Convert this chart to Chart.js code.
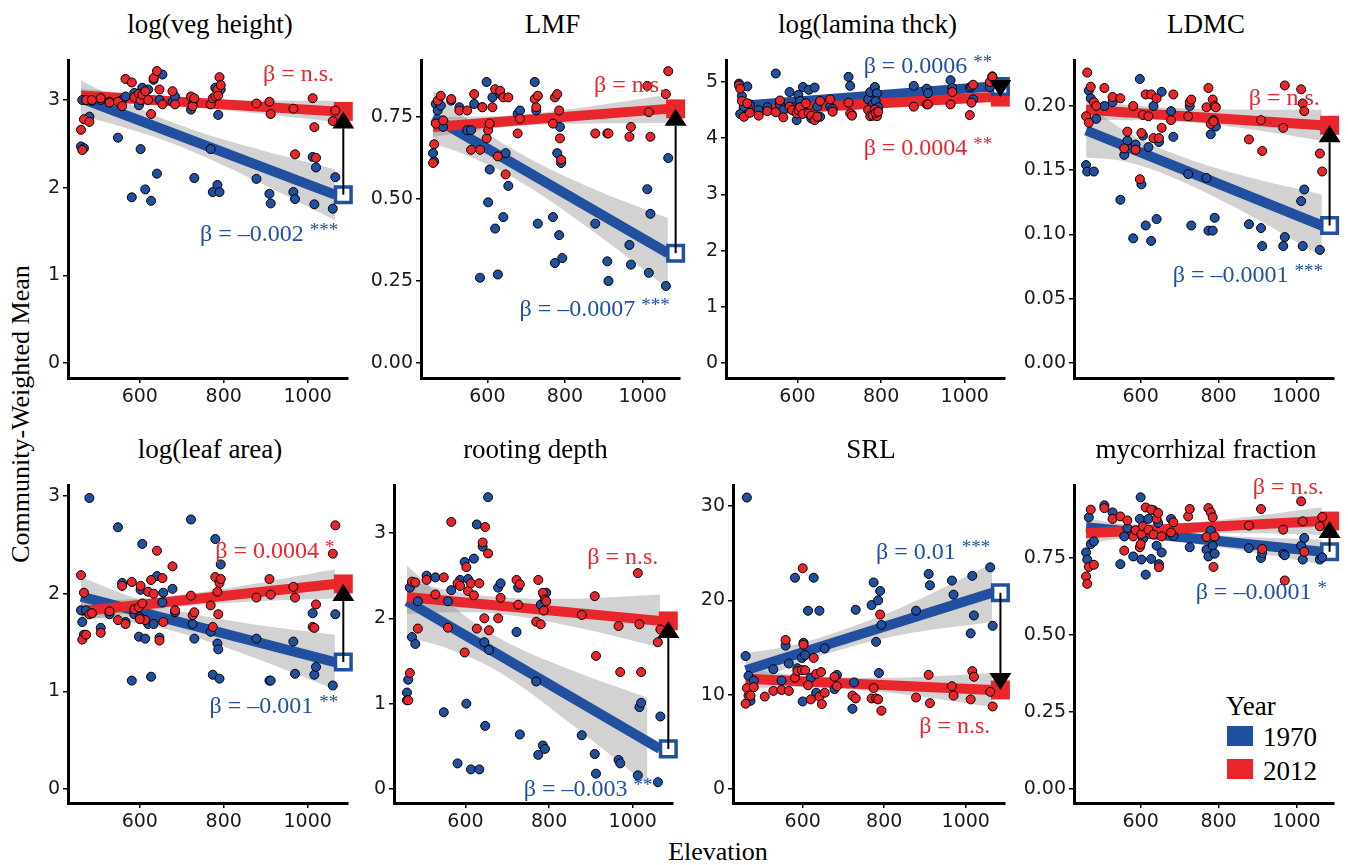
<!DOCTYPE html>
<html>
<head>
<meta charset="utf-8">
<script src="https://cdn.jsdelivr.net/npm/chart.js@4.4.1/dist/chart.umd.min.js"></script>
<style>
body { margin: 0; background: #fff; }
#page { position: relative; width: 1348px; height: 865px; overflow: hidden; font-family: "Liberation Serif", serif; color: #000; }
#page canvas { position: absolute; }
.title { position: absolute; font-size: 27px; line-height: 30px; text-align: center; white-space: nowrap; }
.axtitle { position: absolute; font-size: 26px; line-height: 30px; text-align: center; white-space: nowrap; }
.leg { position: absolute; font-size: 27px; line-height: 30px; white-space: nowrap; }
.box { position: absolute; width: 26px; height: 20px; }
</style>
</head>
<body>
<div id="page">
  <div class="axtitle" style="left:-179px; top:399px; width:400px; transform:rotate(-90deg);">Community-Weighted Mean</div>
  <div class="axtitle" style="left:618px; top:837px; width:200px;">Elevation</div>
  <div class="leg" style="left:1226px; top:691px;">Year</div>
  <div class="box" style="left:1227px; top:726px; background:#2150A0;"></div>
  <div class="leg" style="left:1263px; top:722px;">1970</div>
  <div class="box" style="left:1227px; top:759px; background:#E8262B;"></div>
  <div class="leg" style="left:1263px; top:756px;">2012</div>
</div>
<script>
var BLUE = '#2150A0';
var RED = '#E8262B';
var BAND = 'rgba(128,130,128,0.36)';

// site elevations, shared by every panel
var elevation = [460, 463, 467, 472, 480, 486, 507, 528, 548, 558, 566, 581, 587, 598, 602, 606, 613, 620, 627, 633,
  641, 647, 654, 678, 684, 722, 726, 730, 769, 774, 780, 785, 790, 878, 909, 912, 966, 970, 1012, 1016,
  1020, 1060, 1066, 787, 793, 645, 656, 600];

var xTicks = [600, 800, 1000];
var fitX = [460, 1065];
var endX = 1085;
var bandX = [460, 560, 680, 850, 1065];
var rootBandX70 = [460, 560, 680, 850, 1035];

// log(veg height)
var vegHeight1970 = [2.47, 3.0, 2.45, 3.0, 2.81, 2.99, 3.0, 2.98, 2.57, 3.0, 3.04, 1.89, 3.08, 2.94, 2.44, 3.14, 1.98, 3.12, 1.85, 3.23,
  2.16, 3.0, 3.29, 2.98, 3.04, 2.89, 2.95, 2.11, 2.44, 1.95, 3.14, 2.03, 1.95, 2.10, 1.93, 1.82, 1.95, 1.87, 2.35, 1.81,
  2.23, 1.76, 2.12, 2.83, 3.12, null, null, null];
var vegHeight2012 = [2.66, 2.43, 2.78, 3.0, 2.75, 3.0, 3.02, 2.97, 2.98, 2.93, 3.24, 3.2, 3.03, 3.07, 3.0, 3.06, 3.1, 3.0, 2.84, 3.25,
  3.33, 3.12, 2.95, 3.1, 2.95, 3.04, 2.93, 3.02, 2.95, 3.02, 3.04, 3.12, 3.26, 2.96, 2.98, 2.84, 2.9, 2.38, 3.02, 2.69,
  2.34, 2.76, 2.88, 3.05, 3.17, null, null, null];
var vegFit1970 = [3.02, 1.92];
var vegFit2012 = [3.05, 2.87];
var vegHi1970 = [3.22, 2.99, 2.74, 2.48, 2.21];
var vegLo1970 = [2.82, 2.69, 2.50, 2.14, 1.63];
var vegHi2012 = [3.13, 3.08, 3.03, 3.00, 2.99];
var vegLo2012 = [2.97, 2.96, 2.93, 2.86, 2.75];
var vegTicks = [0, 1, 2, 3];

// LMF
var lmf1970 = [0.64, 0.615, 0.79, 0.77, 0.785, 0.72, 0.80, 0.78, 0.71, 0.71, 0.79, 0.26, 0.78, 0.857, 0.49, 0.59, 0.81, 0.41, 0.27, 0.82,
  0.445, 0.64, 0.54, 0.76, 0.77, 0.857, 0.77, 0.425, 0.445, 0.305, 0.64, 0.39, 0.61, 0.425, 0.31, 0.25, 0.36, 0.30, 0.53, 0.275,
  0.455, 0.235, 0.625, 0.72, 0.32, null, null, null];
var lmf2012 = [0.61, 0.667, 0.73, 0.80, 0.815, 0.74, 0.805, 0.77, 0.77, 0.65, 0.82, 0.65, 0.78, 0.685, 0.71, 0.73, 0.78, 0.835, 0.63, 0.83,
  0.81, 0.575, 0.81, 0.70, 0.745, 0.805, 0.78, 0.815, 0.73, 0.81, 0.82, 0.77, 0.62, 0.70, 0.70, 0.70, 0.69, 0.72, 0.845, 0.765,
  0.69, 0.82, 0.89, 0.685, null, null, null, null];
var lmfFit1970 = [0.75, 0.335];
var lmfFit2012 = [0.72, 0.775];
var lmfHi1970 = [0.83, 0.735, 0.642, 0.543, 0.442];
var lmfLo1970 = [0.67, 0.627, 0.556, 0.421, 0.228];
var lmfHi2012 = [0.75, 0.751, 0.757, 0.78, 0.818];
var lmfLo2012 = [0.69, 0.707, 0.723, 0.73, 0.732];
var lmfTicks = [0, 0.25, 0.5, 0.75];

// log(lamina thck)
var lamina1970 = [4.97, 4.43, 4.75, 4.56, 4.92, 4.6, 4.5, 4.55, 5.15, 4.6, 4.5, 4.82, 4.55, 4.32, 4.77, 4.66, 4.91, 4.45, 4.86, 4.35,
  4.9, 4.56, 4.38, 4.56, 4.52, 5.09, 4.93, 4.42, 4.69, 4.82, 4.6, 4.91, 4.8, 4.93, 4.88, 4.8, 5.03, 4.89, 4.9, 4.92,
  4.69, 4.91, 5.1, 4.66, 4.55, null, null, null];
var lamina2012 = [4.94, 4.88, 4.66, 4.38, 4.62, 4.45, 4.4, 4.48, 4.46, 4.67, 4.37, 4.56, 4.5, 4.44, 4.5, 4.55, 4.43, 4.62, 4.44, 4.4,
  4.32, 4.38, 4.66, 4.69, 4.47, 4.63, 4.44, 4.4, 4.5, 4.39, 4.4, 4.51, 4.39, 4.56, 4.6, 4.6, 4.6, 4.82, 4.41, 4.63,
  4.95, 5.0, 5.09, 4.45, 4.47, null, null, null];
var laminaFit1970 = [4.57, 4.92];
var laminaFit2012 = [4.48, 4.73];
var laminaHi1970 = [4.625, 4.668, 4.729, 4.84, 5.0];
var laminaLo1970 = [4.515, 4.588, 4.665, 4.75, 4.84];
var laminaHi2012 = [4.535, 4.561, 4.603, 4.686, 4.81];
var laminaLo2012 = [4.425, 4.481, 4.539, 4.596, 4.65];
var laminaTicks = [0, 1, 2, 3, 4, 5];

// LDMC
var ldmc1970 = [0.154, 0.149, 0.212, 0.206, 0.149, 0.19, 0.20, 0.203, 0.127, 0.162, 0.173, 0.097, 0.170, 0.221, 0.139, 0.177, 0.107, 0.168, 0.095, 0.20,
  0.112, 0.172, 0.211, 0.196, 0.176, 0.147, 0.20, 0.107, 0.144, 0.103, 0.178, 0.103, 0.113, 0.108, 0.105, 0.091, 0.091, 0.098, 0.126, 0.091,
  0.135, 0.088, null, 0.189, 0.184, null, null, null];
var ldmc2012 = [0.192, 0.226, 0.187, 0.215, 0.203, 0.20, 0.214, 0.207, 0.206, 0.167, 0.18, 0.20, 0.166, 0.143, 0.179, 0.193, 0.209, 0.192, 0.209, 0.175,
  0.206, 0.175, 0.183, 0.189, 0.209, 0.192, 0.203, 0.205, 0.199, 0.214, 0.186, 0.205, 0.20, 0.174, 0.189, 0.165, 0.183, 0.216, 0.213, 0.202,
  0.196, 0.163, 0.149, 0.188, 0.199, null, null, null];
var ldmcFit1970 = [0.181, 0.107];
var ldmcFit2012 = [0.197, 0.185];
var ldmcHi1970 = [0.202, 0.1808, 0.1636, 0.1468, 0.131];
var ldmcLo1970 = [0.160, 0.1568, 0.1446, 0.1198, 0.083];
var ldmcHi2012 = [0.205, 0.201, 0.1986, 0.1972, 0.197];
var ldmcLo2012 = [0.189, 0.189, 0.1886, 0.1832, 0.173];
var ldmcTicks = [0, 0.05, 0.1, 0.15, 0.2];

// log(leaf area)
var leaf1970 = [1.83, 1.71, 1.58, 1.83, 2.98, 1.80, 1.65, 1.79, 2.68, 2.11, 1.71, 1.11, 1.79, 1.56, 2.04, 2.51, 1.54, 1.69, 1.15, 1.69,
  2.18, 1.55, 1.91, 2.05, 1.81, 2.76, 1.69, 1.54, 1.61, 1.17, 2.56, 1.49, 1.13, 1.54, 1.11, 1.11, 1.51, 1.18, 1.80, 1.17,
  1.25, 1.06, 1.79, 1.43, 2.30, null, 2.01, 1.76];
var leaf2012 = [2.19, 1.53, 2.01, 1.58, 1.79, 1.8, 1.60, 1.82, 1.73, 2.08, 1.69, 2.12, 1.84, 1.86, 2.08, 1.90, 1.73, 2.02, 2.14, 2.0,
  2.44, 1.52, 2.16, 2.28, 1.83, 1.98, 1.78, 1.81, 1.88, 1.66, 2.17, 2.02, 2.11, 1.96, 2.15, 1.99, 2.07, 1.96, 1.66, 1.65,
  1.89, 2.41, 2.70, 1.79, 2.15, null, 1.71, 1.74];
var leafFit1970 = [1.97, 1.30];
var leafFit2012 = [1.82, 2.10];
var leafHi1970 = [2.17, 2.0, 1.837, 1.70, 1.58];
var leafLo1970 = [1.77, 1.72, 1.617, 1.38, 1.02];
var leafHi2012 = [1.92, 1.94, 1.98, 2.085, 2.25];
var leafLo2012 = [1.72, 1.79, 1.86, 1.915, 1.95];
var leafTicks = [0, 1, 2, 3];

// rooting depth
var root1970 = [1.13, 1.28, 2.36, 1.78, 1.70, 2.2, 2.5, 2.48, 0.90, 2.2, 2.33, 0.30, 2.45, 2.66, 1.0, 2.46, 0.23, 2.70, 3.1, 0.23,
  2.84, 0.74, 3.42, 2.36, 2.41, 1.84, 2.36, 0.64, 1.26, 0.40, 2.16, 0.51, 0.47, 0.63, 0.41, 0.18, 0.34, 0.30, 0.16, 0.96,
  1.01, 0.08, 0.85, 2.28, 2.30, 1.72, 1.63, null];
var root2012 = [1.04, 1.04, 1.36, 2.43, 2.42, 1.88, 2.45, 2.28, 2.48, 1.89, 3.13, 2.41, 2.38, 1.60, 2.6, 2.32, 2.41, 2.27, 1.88, 2.41,
  2.89, 3.07, 2.76, 2.0, 2.24, 2.45, 2.16, 2.4, 1.96, 2.45, 1.93, 2.3, 2.22, 2.04, 2.26, 1.56, 1.91, 1.37, 2.53, 1.93,
  1.37, 1.72, 1.87, 2.09, 2.2, 2.0, 1.86, null];
var rootFit1970 = [2.2, 0.47];
var rootFit2012 = [2.25, 1.97];
var rootHi1970 = [2.62, 2.18, 1.77, 1.40, 1.07];
var rootLo1970 = [1.78, 1.64, 1.37, 0.77, 0.05];
var rootHi2012 = [2.45, 2.33, 2.25, 2.23, 2.28];
var rootLo2012 = [2.05, 2.07, 2.05, 1.91, 1.66];
var rootTicks = [0, 1, 2, 3];

// SRL
var srl1970 = [14.1, 30.9, 12.0, 9.35, 11.5, null, null, 12.7, 11.5, 15.2, 13.3, 22.4, 12.8, 13.9, 15.5, 14.2, 18.9, 11.8, 22.4, 10.2,
  18.9, null, 14.9, 10.6, 12.1, 8.5, 11.3, 19.0, 19.5, 21.9, 15.6, 20.0, 21.0, 18.9, 22.8, 21.6, 22.1, 20.6, 16.5, 22.6,
  18.4, 23.5, 17.3, 12.3, 17.4, null, null, 9.28];
var srl2012 = [9.04, 10.7, 9.9, 9.9, 10.8, null, 9.8, 10.4, 10.5, 15.8, 10.4, 11.8, 12.5, 12.6, 15.3, 12.6, 11.0, 9.5, 13.9, 12.2,
  9.8, 9.0, 10.2, 11.9, 10.9, 9.9, null, 9.6, 9.6, 10.7, 9.6, 9.5, 18.5, 9.7, 12.1, 9.1, 10.9, 9.9, 9.5, 12.5,
  11.9, 10.3, 8.75, null, 8.3, 12.4, null, 23.4];
var srlFit1970 = [12.6, 20.8];
var srlFit2012 = [11.7, 10.5];
var srlHi1970 = [14.4, 15.1, 16.6, 19.4, 23.9];
var srlLo1970 = [10.8, 12.8, 14.6, 16.4, 17.7];
var srlHi2012 = [12.8, 12.2, 11.87, 11.83, 12.3];
var srlLo2012 = [10.6, 10.8, 10.67, 10.03, 8.7];
var srlTicks = [0, 10, 20, 30];

// mycorrhizal fraction
var myco1970 = [0.768, 0.745, 0.882, 0.795, 0.804, null, 0.921, 0.898, 0.73, 0.82, 0.847, 0.755, null, 0.877, 0.745, 0.812, 0.696, 0.877, 0.747, 0.905,
  0.79, 0.73, 0.768, 0.877, 0.822, null, 0.785, null, 0.777, 0.755, 0.839, 0.79, 0.764, 0.782, 0.75, 0.766, 0.763, 0.759, 0.79, 0.745,
  0.815, 0.745, 0.752, null, null, 0.864, null, 0.947];
var myco2012 = [0.69, 0.666, 0.721, 0.907, 0.728, null, 0.912, 0.877, 0.885, 0.774, 0.872, 0.82, 0.84, 0.785, 0.828, 0.853, 0.914, 0.842, 0.907, 0.826,
  0.877, 0.72, 0.82, 0.833, 0.866, 0.885, 0.909, null, 0.818, 0.912, 0.898, 0.882, 0.82, 0.855, 0.909, 0.779, 0.842, 0.677, 0.934, 0.869,
  0.77, 0.853, 0.883, 0.721, null, 0.896, null, 0.795];
var mycoFit1970 = [0.85, 0.77];
var mycoFit2012 = [0.83, 0.87];
var mycoHi1970 = [0.88, 0.857, 0.836, 0.82, 0.81];
var mycoLo1970 = [0.82, 0.817, 0.806, 0.776, 0.73];
var mycoHi2012 = [0.865, 0.859, 0.862, 0.88, 0.915];
var mycoLo2012 = [0.795, 0.815, 0.826, 0.83, 0.825];
var mycoTicks = [0, 0.25, 0.5, 0.75];

// layout
var AXIS_W = 70, AXIS_H = 40, PAD_T = 20, PAD_R = 10;
var X_MIN = 429, X_MAX = 1095;

var panels = [
  { title: 'log(veg height)', area: [68, 60, 352, 378], yMin: -0.171, yMax: 3.456, ticks: vegTicks, dec: 0,
    v70: vegHeight1970, v12: vegHeight2012, f70: vegFit1970, f12: vegFit2012,
    hi70: vegHi1970, lo70: vegLo1970, hi12: vegHi2012, lo12: vegLo2012, bx70: bandX,
    labels: [{ text: 'β = n.s.', stars: '', color: RED, x: 1063, y: 3.285 },
             { text: 'β = –0.002', stars: '***', color: BLUE, x: 1073, y: 1.46 }] },
  { title: 'LMF', area: [421, 60, 684, 378], yMin: -0.0457, yMax: 0.924, ticks: lmfTicks, dec: 2,
    v70: lmf1970, v12: lmf2012, f70: lmfFit1970, f12: lmfFit2012,
    hi70: lmfHi1970, lo70: lmfLo1970, hi12: lmfHi2012, lo12: lmfLo2012, bx70: bandX,
    labels: [{ text: 'β = n.s.', stars: '', color: RED, x: 1058, y: 0.845 },
             { text: 'β = –0.0007', stars: '***', color: BLUE, x: 1070, y: 0.162 }] },
  { title: 'log(lamina thck)', area: [726, 60, 1009, 378], yMin: -0.267, yMax: 5.39, ticks: laminaTicks, dec: 0,
    v70: lamina1970, v12: lamina2012, f70: laminaFit1970, f12: laminaFit2012,
    hi70: laminaHi1970, lo70: laminaLo1970, hi12: laminaHi2012, lo12: laminaLo2012, bx70: bandX,
    labels: [{ text: 'β = 0.0006', stars: '**', color: BLUE, x: 1066, y: 5.27 },
             { text: 'β = 0.0004', stars: '**', color: RED, x: 1066, y: 3.81 }] },
  { title: 'LDMC', area: [1074, 60, 1338, 378], yMin: -0.0117, yMax: 0.2358, ticks: ldmcTicks, dec: 2,
    v70: ldmc1970, v12: ldmc2012, f70: ldmcFit1970, f12: ldmcFit2012,
    hi70: ldmcHi1970, lo70: ldmcLo1970, hi12: ldmcHi2012, lo12: ldmcLo2012, bx70: bandX,
    labels: [{ text: 'β = n.s.', stars: '', color: RED, x: 1060, y: 0.2054 },
             { text: 'β = –0.0001', stars: '***', color: BLUE, x: 1068, y: 0.0677 }] },
  { title: 'log(leaf area)', area: [68, 485, 352, 803], yMin: -0.143, yMax: 3.113, ticks: leafTicks, dec: 0,
    v70: leaf1970, v12: leaf2012, f70: leafFit1970, f12: leafFit2012,
    hi70: leafHi1970, lo70: leafLo1970, hi12: leafHi2012, lo12: leafLo2012, bx70: bandX,
    labels: [{ text: 'β = 0.0004', stars: '*', color: RED, x: 1064, y: 2.43 },
             { text: 'β = –0.001', stars: '**', color: BLUE, x: 1073, y: 0.84 }] },
  { title: 'rooting depth', area: [394, 485, 677, 803], yMin: -0.164, yMax: 3.5625, ticks: rootTicks, dec: 0,
    v70: root1970, v12: root2012, f70: rootFit1970, f12: rootFit2012,
    hi70: rootHi1970, lo70: rootLo1970, hi12: rootHi2012, lo12: rootLo2012, bx70: rootBandX70,
    labels: [{ text: 'β = n.s.', stars: '', color: RED, x: 1061, y: 2.71 },
             { text: 'β = –0.003', stars: '***', color: BLUE, x: 1070, y: -0.01 }] },
  { title: 'SRL', area: [733, 485, 1009, 803], yMin: -1.484, yMax: 32.23, ticks: srlTicks, dec: 0,
    v70: srl1970, v12: srl2012, f70: srlFit1970, f12: srlFit2012,
    hi70: srlHi1970, lo70: srlLo1970, hi12: srlHi2012, lo12: srlLo2012, bx70: bandX,
    labels: [{ text: 'β = 0.01', stars: '***', color: BLUE, x: 1060, y: 25.1 },
             { text: 'β = n.s.', stars: '', color: RED, x: 1060, y: 6.57 }] },
  { title: 'mycorrhizal fraction', area: [1074, 485, 1338, 803], yMin: -0.0455, yMax: 0.987, ticks: mycoTicks, dec: 2,
    v70: myco1970, v12: myco2012, f70: mycoFit1970, f12: mycoFit2012,
    hi70: mycoHi1970, lo70: mycoLo1970, hi12: mycoHi2012, lo12: mycoLo2012, bx70: bandX,
    labels: [{ text: 'β = n.s.', stars: '', color: RED, x: 1070, y: 0.977 },
             { text: 'β = –0.0001', stars: '*', color: BLUE, x: 1078, y: 0.636 }] }
];

// arrow from the 1970 end to the 2012 end, plus the beta labels
var decorPlugin = {
  id: 'decor',
  afterDatasetsDraw: function (chart, args, opts) {
    var ctx = chart.ctx, xs = chart.scales.x, ys = chart.scales.y;
    var ax = xs.getPixelForValue(opts.endX);
    var y0 = ys.getPixelForValue(opts.from);
    var y1 = ys.getPixelForValue(opts.to);
    var dir = y1 < y0 ? 1 : -1;
    var base = y1 + dir * 17;
    ctx.save();
    ctx.strokeStyle = '#000';
    ctx.fillStyle = '#000';
    ctx.lineWidth = 2;
    if ((y0 - base) * dir > 0) {
      ctx.beginPath();
      ctx.moveTo(ax, y0);
      ctx.lineTo(ax, base);
      ctx.stroke();
    }
    ctx.beginPath();
    ctx.moveTo(ax, y1);
    ctx.lineTo(ax - 11, base);
    ctx.lineTo(ax + 11, base);
    ctx.closePath();
    ctx.fill();

    ctx.textAlign = 'right';
    ctx.textBaseline = 'middle';
    for (var i = 0; i < opts.labels.length; i++) {
      var lb = opts.labels[i];
      var rx = xs.getPixelForValue(lb.x), cy = ys.getPixelForValue(lb.y);
      var starW = 0;
      ctx.fillStyle = lb.color;
      if (lb.stars) {
        ctx.font = '19px "Liberation Serif"';
        ctx.fillText(lb.stars, rx, cy - 4);
        starW = ctx.measureText(lb.stars).width + 6;
      }
      ctx.font = '24px "Liberation Serif"';
      ctx.fillText(lb.text, rx - starW, cy);
    }
    ctx.restore();
  }
};

function toPoints(vals) {
  var out = [];
  for (var i = 0; i < elevation.length; i++) {
    if (vals[i] !== null) out.push({ x: elevation[i], y: vals[i] });
  }
  return out;
}

function toLine(xs, ys) {
  return xs.map(function (x, i) { return { x: x, y: ys[i] }; });
}

function axisOpts(min, max, ticks, dec, size) {
  return {
    type: 'linear', min: min, max: max,
    afterBuildTicks: function (scale) { scale.ticks = ticks.map(function (v) { return { value: v }; }); },
    afterFit: function (scale) { if (size.w) scale.width = size.w; else scale.height = size.h; },
    ticks: {
      color: '#1a1a1a', padding: 3,
      font: { family: 'DejaVu Sans', size: 19 },
      callback: function (v) { return Number(v).toFixed(dec); }
    },
    grid: { drawOnChartArea: false, drawTicks: true, tickLength: 5, color: '#000', tickColor: '#000', lineWidth: 1.5 },
    border: { display: true, color: '#000', width: 3 }
  };
}

var page = document.getElementById('page');

panels.forEach(function (p) {
  var a = p.area;
  var w = a[2] - a[0] + AXIS_W + PAD_R;
  var h = a[3] - a[1] + PAD_T + AXIS_H;

  var t = document.createElement('div');
  t.className = 'title';
  t.style.left = a[0] + 'px';
  t.style.width = (a[2] - a[0]) + 'px';
  t.style.top = (a[1] - 51) + 'px';
  t.textContent = p.title;
  page.appendChild(t);

  var canvas = document.createElement('canvas');
  canvas.width = w;
  canvas.height = h;
  canvas.style.left = (a[0] - AXIS_W) + 'px';
  canvas.style.top = (a[1] - PAD_T) + 'px';
  canvas.style.width = w + 'px';
  canvas.style.height = h + 'px';
  page.appendChild(canvas);

  var pointStyle = { showLine: false, pointRadius: 4.5, pointBorderColor: '#000', pointBorderWidth: 1 };
  var lineStyle = { pointRadius: 0, borderWidth: 10, borderCapStyle: 'butt' };
  var bandStyle = { pointRadius: 0, borderWidth: 0, borderColor: 'transparent', tension: 0.4 };

  new Chart(canvas, {
    type: 'line',
    data: {
      datasets: [
        Object.assign({ label: '2012', data: toPoints(p.v12), pointBackgroundColor: RED, order: 1 }, pointStyle),
        Object.assign({ label: '1970', data: toPoints(p.v70), pointBackgroundColor: BLUE, order: 2 }, pointStyle),
        { data: [{ x: endX, y: p.f70[1] }], showLine: false, pointStyle: 'rect', pointRadius: 11,
          pointBackgroundColor: '#fff', pointBorderColor: BLUE, pointBorderWidth: 3.5, order: 3, clip: false },
        { data: [{ x: endX, y: p.f12[1] }], showLine: false, pointStyle: 'rect', pointRadius: 13.4,
          pointBackgroundColor: RED, pointBorderColor: RED, pointBorderWidth: 0, order: 3, clip: false },
        Object.assign({ data: toLine(fitX, p.f12), borderColor: RED, order: 4 }, lineStyle),
        Object.assign({ data: toLine(fitX, p.f70), borderColor: BLUE, order: 5 }, lineStyle),
        Object.assign({ data: toLine(bandX, p.hi12), fill: '+1', backgroundColor: BAND, order: 6 }, bandStyle),
        Object.assign({ data: toLine(bandX, p.lo12), fill: false, order: 6 }, bandStyle),
        Object.assign({ data: toLine(p.bx70, p.hi70), fill: '+1', backgroundColor: BAND, order: 7 }, bandStyle),
        Object.assign({ data: toLine(p.bx70, p.lo70), fill: false, order: 7 }, bandStyle)
      ]
    },
    options: {
      responsive: false,
      animation: false,
      devicePixelRatio: 1,
      events: [],
      layout: { padding: { top: PAD_T, right: PAD_R, left: 0, bottom: 0 } },
      plugins: {
        legend: { display: false },
        tooltip: { enabled: false },
        decor: { endX: endX, from: p.f70[1], to: p.f12[1], labels: p.labels }
      },
      scales: {
        x: axisOpts(X_MIN, X_MAX, xTicks, 0, { h: AXIS_H }),
        y: axisOpts(p.yMin, p.yMax, p.ticks, p.dec, { w: AXIS_W })
      }
    },
    plugins: [decorPlugin]
  });
});
</script>
</body>
</html>
